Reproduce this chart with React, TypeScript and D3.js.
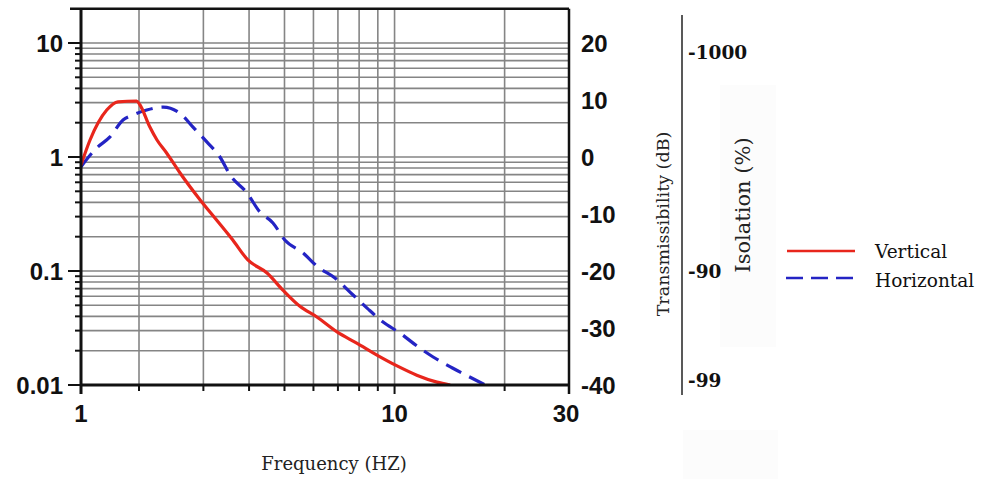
import React from "react";
import * as d3 from "d3";

// ---- data ----
const verticalFreq = [1.0, 1.114, 1.36, 1.556, 1.946, 2.013, 2.14, 2.24, 2.38, 2.59, 2.94, 3.26, 3.61, 3.97, 4.48, 4.95, 5.51, 6.13, 6.96, 7.88, 8.95, 10.16, 11.5, 13.06, 14.2];
const verticalT = [0.851, 1.41, 2.58, 3.05, 3.1, 2.86, 1.84, 1.41, 1.084, 0.724, 0.42, 0.28, 0.187, 0.125, 0.096, 0.068, 0.049, 0.0395, 0.0292, 0.0233, 0.0183, 0.0147, 0.0122, 0.0106, 0.01];

const horizontalFreq = [1.0, 1.206, 1.414, 1.652, 1.862, 2.1, 2.33, 2.62, 2.81, 3.07, 3.33, 3.55, 3.95, 4.28, 4.65, 5.01, 5.62, 6.18, 6.87, 7.7, 8.41, 9.3, 10.34, 11.6, 12.75, 14.4, 16.1, 17.7];
const horizontalT = [0.822, 1.2, 1.5, 2.11, 2.34, 2.58, 2.74, 2.34, 1.83, 1.35, 1.0, 0.695, 0.483, 0.33, 0.264, 0.187, 0.144, 0.108, 0.0868, 0.0616, 0.0473, 0.0357, 0.0286, 0.0216, 0.0176, 0.0141, 0.0117, 0.01];

const xGridValues = [2, 3, 4, 5, 6, 7, 8, 9, 10, 20];
const xTickLabels = [1, 10, 30];
const yTickLabels = [10, 1, 0.1, 0.01];
const yTickText = ["10", "1", "0.1", "0.01"];
const dbTicks = [20, 10, 0, -10, -20, -30, -40];
const isolationLabels = ["-1000", "-90", "-99"];
const isolationT = [8.3, 0.1, 0.011];
const legendLabels = ["Vertical", "Horizontal"];

const RED = "#e8261c";
const BLUE = "#2424c4";
const GRID = "#858585";

export default function App() {
  const left = 81, right = 569, bottom = 385;
  const x = d3.scaleLog().domain([1, 2, 30]).range([left, 139, right]);
  const y = d3.scaleLog().domain([0.01, 10]).range([bottom, 43]);
  const yDb = d3.scaleLinear().domain([-40, 20]).range([bottom, 43]);
  const top = y(20);

  const yGrid = y.ticks().filter((v) => v > 0.01 + 1e-9 && v < 20 - 1e-9);
  const yMinor = y.ticks().filter((v) => v <= 20);

  const line = d3
    .line<[number, number]>()
    .x((d) => x(d[0]))
    .y((d) => y(d[1]))
    .curve(d3.curveMonotoneX);

  const vData = verticalFreq.map((f, i) => [f, verticalT[i]] as [number, number]);
  const hData = horizontalFreq.map((f, i) => [f, horizontalT[i]] as [number, number]);

  const sans = "'Liberation Sans', Arial, sans-serif";
  const serif = "'DejaVu Serif', serif";
  const majorSet = new Set([0.01, 0.1, 1, 10]);

  return (
    <svg
      width={982}
      height={479}
      style={{ position: "fixed", left: 0, top: 0, background: "#fff" }}
    >
      <rect x={0} y={0} width={982} height={479} fill="#fff" />
      {/* faint background patches */}
      <rect x={720} y={85} width={56} height={262} fill="#fcfcfc" />
      <rect x={683} y={430} width={95} height={49} fill="#fcfcfc" />

      <defs>
        <clipPath id="plotClip">
          <rect x={left} y={top} width={right - left} height={bottom - top} />
        </clipPath>
      </defs>

      {/* grid */}
      <g stroke={GRID} strokeWidth={1.6}>
        {yGrid.map((v, i) => (
          <line key={"hy" + i} x1={left} x2={right} y1={y(v)} y2={y(v)} />
        ))}
        {xGridValues.map((v, i) => (
          <line key={"vx" + i} x1={x(v)} x2={x(v)} y1={top} y2={bottom} />
        ))}
      </g>

      {/* curves */}
      <g clipPath="url(#plotClip)" fill="none" strokeLinejoin="round">
        <path d={line(hData) || ""} stroke={BLUE} strokeWidth={3.2} strokeDasharray="17 9" />
        <path d={line(vData) || ""} stroke={RED} strokeWidth={3.2} />
      </g>

      {/* frame */}
      <g stroke="#111" fill="none">
        <line x1={70} x2={right} y1={top} y2={top} strokeWidth={2.5} />
        <line x1={left} x2={left} y1={top} y2={bottom + 9} strokeWidth={3} />
        <line x1={left} x2={right + 1} y1={bottom} y2={bottom} strokeWidth={3} />
        <line x1={right} x2={right} y1={top} y2={bottom + 9} strokeWidth={2.5} />
      </g>

      {/* ticks */}
      <g stroke="#111" strokeWidth={2}>
        {yMinor.map((v, i) => (
          <line key={"yt" + i} x1={majorSet.has(+v.toPrecision(3)) ? 68 : 75} x2={left} y1={y(v)} y2={y(v)} />
        ))}
        {[1, ...xGridValues].map((v, i) => (
          <line key={"xt" + i} x1={x(v)} x2={x(v)} y1={bottom} y2={bottom + (v === 1 || v === 10 ? 9 : 6)} />
        ))}
      </g>

      {/* axis labels */}
      <g fontFamily={sans} fontWeight="bold" fontSize={24} fill="#111">
        {yTickLabels.map((v, i) => (
          <text key={"yl" + i} x={63} y={y(v)} textAnchor="end" dominantBaseline="central">
            {yTickText[i]}
          </text>
        ))}
        {xTickLabels.map((v, i) => (
          <text key={"xl" + i} x={x(v) - (v === 30 ? 3 : 0)} y={422} textAnchor="middle">
            {String(v)}
          </text>
        ))}
        {dbTicks.map((v, i) => (
          <text key={"db" + i} x={581} y={yDb(v)} dominantBaseline="central">
            {String(v)}
          </text>
        ))}
      </g>

      {/* x title */}
      <text x={334} y={470} textAnchor="middle" fontFamily={serif} fontSize={18} fill="#222">
        Frequency (HZ)
      </text>

      {/* transmissibility title */}
      <text
        transform="translate(669,224) rotate(-90)"
        textAnchor="middle"
        fontFamily={serif}
        fontSize={17.5}
        fill="#222"
      >
        Transmissibility (dB)
      </text>

      {/* isolation axis */}
      <line x1={682} x2={682} y1={15} y2={395} stroke="#222" strokeWidth={1.5} />
      <g fontFamily={serif} fontWeight="bold" fontSize={18.5} fill="#111">
        {isolationLabels.map((l, i) => (
          <text key={"iso" + i} x={688} y={y(isolationT[i])} dominantBaseline="central">
            {l}
          </text>
        ))}
      </g>
      <text
        transform="translate(750,205) rotate(-90)"
        textAnchor="middle"
        fontFamily={serif}
        fontSize={21}
        fill="#222"
      >
        Isolation (%)
      </text>

      {/* legend */}
      <line x1={787} x2={855} y1={251} y2={251} stroke={RED} strokeWidth={2.5} />
      <line x1={786} x2={856} y1={278} y2={278} stroke={BLUE} strokeWidth={2.5} strokeDasharray="17 8" />
      <g fontFamily={serif} fontSize={18.5} fill="#111">
        <text x={875} y={258}>{legendLabels[0]}</text>
        <text x={875} y={287}>{legendLabels[1]}</text>
      </g>
    </svg>
  );
}
